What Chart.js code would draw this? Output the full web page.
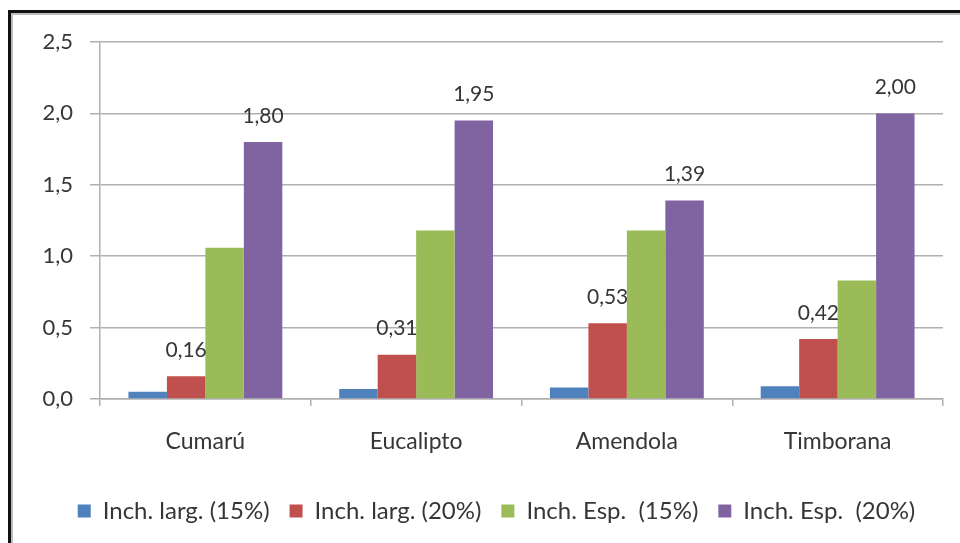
<!DOCTYPE html>
<html>
<head>
<meta charset="utf-8">
<script src="https://cdn.jsdelivr.net/npm/chart.js@4/dist/chart.umd.min.js"></script>
<style>
  html, body { margin: 0; padding: 0; background: #fff; }
  #wrap { position: relative; width: 960px; height: 543px; overflow: hidden; }
  #c { position: absolute; left: 0; top: 0; }
  #frame {
    position: absolute; left: 8px; top: 10px; width: 980px; height: 560px;
    border-left: 3px solid #111; border-top: 3px solid #111;
    box-shadow: inset 2px 2px 0 #bdbdbd;
    pointer-events: none;
  }
</style>
</head>
<body>
<div id="wrap">
  <canvas id="c" width="960" height="543"></canvas>
  <div id="frame"></div>
</div>
<script>
const categories = ['Cumarú', 'Eucalipto', 'Amendola', 'Timborana'];
const seriesNames = ['Inch. larg. (15%)', 'Inch. larg. (20%)', 'Inch. Esp.  (15%)', 'Inch. Esp.  (20%)'];
const largura15 = [0.05, 0.07, 0.08, 0.09];
const largura20 = [0.16, 0.31, 0.53, 0.42];
const espessura15 = [1.06, 1.18, 1.18, 0.83];
const espessura20 = [1.80, 1.95, 1.39, 2.00];
const yTicks = [0, 0.5, 1.0, 1.5, 2.0, 2.5];
const colors = ['#4F81BD', '#C0504D', '#9BBB59', '#8064A2'];
// series that carry a value label above each bar
const labelled = [false, true, false, true];

const FONT = 'Lato, "Open Sans", sans-serif';
const TEXT = '#363636';
const GRID = '#b0b0b0';

const fmt = v => v.toFixed(2).replace('.', ',');

const valueLabels = {
  id: 'valueLabels',
  afterDatasetsDraw(chart) {
    const ctx = chart.ctx;
    ctx.save();
    ctx.font = '21px ' + FONT;
    ctx.fillStyle = TEXT;
    ctx.textAlign = 'center';
    ctx.textBaseline = 'middle';
    chart.data.datasets.forEach((ds, i) => {
      if (!labelled[i]) return;
      chart.getDatasetMeta(i).data.forEach((bar, j) => {
        ctx.fillText(fmt(ds.data[j]), bar.x, bar.y - 26);
      });
    });
    ctx.restore();
  }
};

// centre the legend row a little to the right of the canvas centre
const legendOffset = {
  id: 'legendOffset',
  afterLayout(chart) {
    if (chart.legend) chart.legend.left = 50;
  }
};

const allSeries = [largura15, largura20, espessura15, espessura20];

new Chart(document.getElementById('c'), {
  type: 'bar',
  data: {
    labels: categories,
    datasets: allSeries.map((d, i) => ({
      label: seriesNames[i],
      data: d,
      backgroundColor: colors[i],
      borderWidth: 0,
      categoryPercentage: 0.73,
      barPercentage: 1.0
    }))
  },
  options: {
    responsive: false,
    animation: false,
    devicePixelRatio: 1,
    layout: { padding: { left: 0, right: 17, top: 42, bottom: 10 } },
    plugins: {
      tooltip: { enabled: false },
      legend: {
        position: 'bottom',
        labels: {
          font: { family: FONT, size: 24 },
          color: TEXT,
          boxWidth: 13,
          boxHeight: 13,
          padding: 20
        }
      }
    },
    scales: {
      x: {
        grid: { display: true, drawOnChartArea: false, offset: true, color: GRID, lineWidth: 1.5, tickLength: 7 },
        border: { color: GRID, width: 1.5 },
        ticks: { font: { family: FONT, size: 23 }, color: TEXT, padding: 22 },
        afterFit(scale) { scale.height = 80; }
      },
      y: {
        min: 0,
        max: 2.5,
        afterBuildTicks(scale) { scale.ticks = yTicks.map(v => ({ value: v })); },
        grid: { color: GRID, lineWidth: 1.5, tickLength: 10 },
        border: { color: GRID, width: 1.5 },
        ticks: {
          font: { family: FONT, size: 22 },
          color: TEXT,
          padding: 17,
          callback: v => v.toFixed(1).replace('.', ',')
        },
        afterFit(scale) { scale.width = 100; }
      }
    }
  },
  plugins: [valueLabels, legendOffset]
});
</script>
</body>
</html>
